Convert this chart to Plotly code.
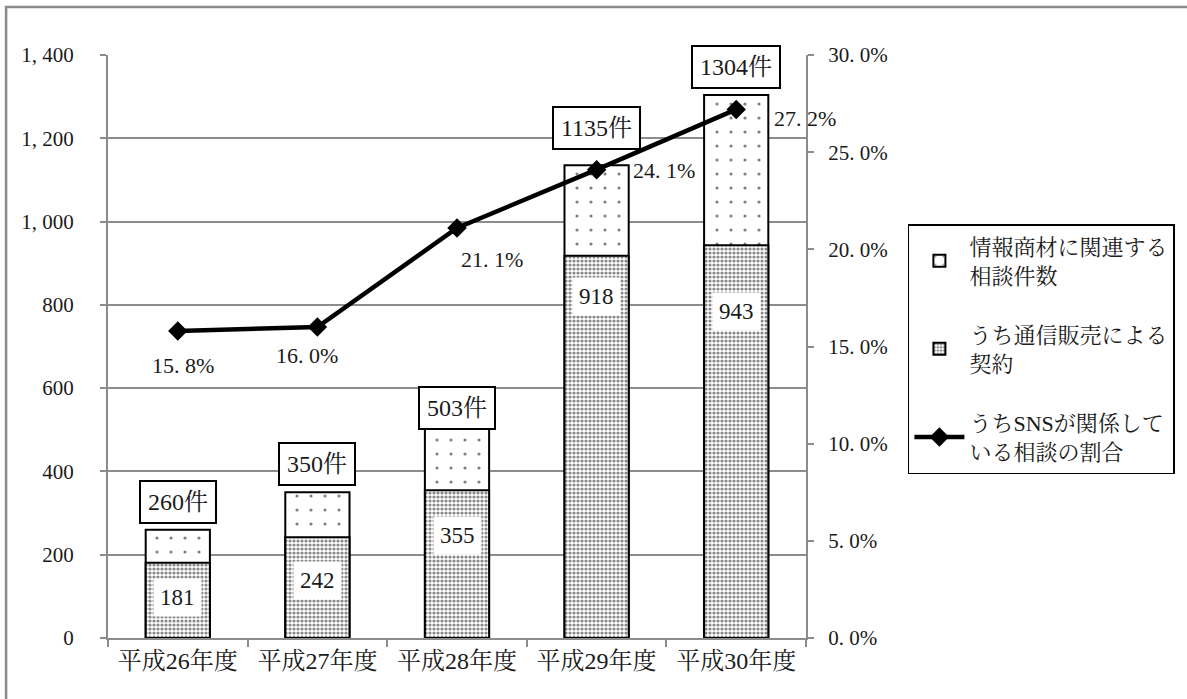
import plotly.graph_objects as go

# ---- data ----
categories = ["平成26年度", "平成27年度", "平成28年度", "平成29年度", "平成30年度"]
total_cases = [260, 350, 503, 1135, 1304]          # 情報商材に関連する相談件数
mail_order = [181, 242, 355, 918, 943]             # うち通信販売による契約
sns_ratio = [15.8, 16.0, 21.1, 24.1, 27.2]         # うちSNSが関係している相談の割合 (%)

left_ticks = [0, 200, 400, 600, 800, 1000, 1200, 1400]
left_ticktext = ["0", "200", "400", "600", "800", "1, 000", "1, 200", "1, 400"]
right_ticks = [0, 5, 10, 15, 20, 25, 30]
right_ticktext = ["0. 0%", "5. 0%", "10. 0%", "15. 0%", "20. 0%", "25. 0%", "30. 0%"]

# label placement (data units / pixel offsets), kept apart from the values
inner_label_y = [98, 139, 245, 820, 785]
total_label_y = [327, 418, 552, 1225, 1371]
ratio_label_offset = [(5, 35), (-10, 28), (35, 32), (67, 1), (69, 9)]

FONT = "'Liberation Serif', 'Noto Serif CJK JP', 'Noto Sans CJK JP', serif"
TXT = "#1a1a1a"
GRID = "#8c8c8c"

fig = go.Figure()

fig.add_trace(go.Bar(
    x=categories, y=total_cases, name="情報商材に関連する<br>相談件数",
    width=0.46, legendgroup="a",
    marker=dict(color="white", line=dict(color="black", width=2),
                pattern=dict(shape=".", size=14, solidity=0.04,
                             fgcolor="black", bgcolor="white")),
    hoverinfo="skip",
))
fig.add_trace(go.Bar(
    x=categories, y=mail_order, name="うち通信販売による<br>契約",
    width=0.46, legendgroup="b",
    marker=dict(color="white", line=dict(color="black", width=2),
                pattern=dict(shape=".", size=4, solidity=0.5,
                             fgcolor="#111111", bgcolor="white")),
    hoverinfo="skip",
))
fig.add_trace(go.Scatter(
    x=categories, y=sns_ratio, name="うちSNSが関係して<br>いる相談の割合",
    yaxis="y2", mode="lines+markers", legendgroup="c",
    line=dict(color="black", width=4.5),
    marker=dict(symbol="diamond", size=15, color="black"),
    hoverinfo="skip",
))

annotations = []
for c, v, ly in zip(categories, mail_order, inner_label_y):
    annotations.append(dict(x=c, y=ly, xref="x", yref="y", text=str(v),
                            showarrow=False, bgcolor="white", borderpad=6,
                            font=dict(family=FONT, size=23, color=TXT)))
for c, v, ly in zip(categories, total_cases, total_label_y):
    annotations.append(dict(x=c, y=ly, xref="x", yref="y", text=f"{v}件",
                            showarrow=False, bgcolor="white", borderpad=7,
                            bordercolor="black", borderwidth=2,
                            font=dict(family=FONT, size=24, color=TXT)))
for c, v, (dx, dy) in zip(categories, sns_ratio, ratio_label_offset):
    s = f"{v:.1f}".replace(".", ". ") + "%"
    annotations.append(dict(x=c, y=v, xref="x", yref="y2", text=s,
                            showarrow=False, xshift=dx, yshift=-dy,
                            font=dict(family=FONT, size=22, color=TXT)))

fig.update_layout(
    width=1187, height=699,
    margin=dict(l=108, r=381, t=55, b=61),
    paper_bgcolor="white", plot_bgcolor="white",
    barmode="overlay",
    font=dict(family=FONT, size=20, color=TXT),
    xaxis=dict(type="category", range=[-0.5, 4.5], showline=True,
               linecolor=GRID, linewidth=2, ticks="outside",
               tickson="boundaries", ticklen=7, tickcolor=GRID, tickwidth=2,
               showgrid=False, tickfont=dict(size=24)),
    yaxis=dict(range=[0, 1400], tickvals=left_ticks, ticktext=left_ticktext,
               showline=True, linecolor=GRID, linewidth=2,
               ticks="outside", ticklen=6, tickcolor=GRID, tickwidth=2,
               showgrid=True, gridcolor=GRID, gridwidth=2,
               zeroline=False, ticklabelstandoff=22,
               tickfont=dict(size=21)),
    yaxis2=dict(range=[0, 30], overlaying="y", side="right",
                tickvals=right_ticks, ticktext=right_ticktext,
                showline=True, linecolor=GRID, linewidth=2,
                ticks="outside", ticklen=6, tickcolor=GRID, tickwidth=2,
                showgrid=False, zeroline=False, ticklabelstandoff=10,
                tickfont=dict(size=21)),
    legend=dict(x=1.146, y=0.71, xanchor="left", yanchor="top",
                bgcolor="white", bordercolor="black", borderwidth=1.5,
                traceorder="grouped", tracegroupgap=28, itemwidth=50,
                font=dict(family=FONT, size=22, color=TXT)),
    annotations=annotations,
    shapes=[dict(type="rect", xref="paper", yref="paper",
                 x0=-0.146, x1=1.7, y0=-0.3, y1=1.0823,
                 line=dict(color="#8a8a8a", width=2.5), layer="below")],
)

fig.write_html("out.html")
